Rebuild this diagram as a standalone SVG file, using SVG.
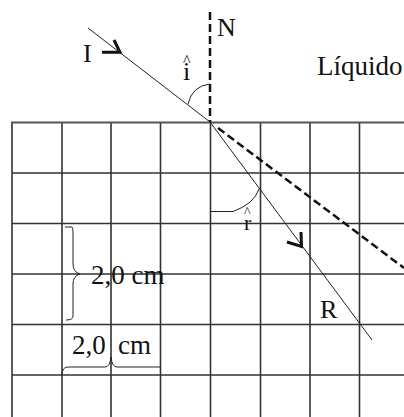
<svg xmlns="http://www.w3.org/2000/svg" width="404" height="417" viewBox="0 0 404 417">
<style>
.grid{stroke:#333;stroke-width:1.6;fill:none}
.ray{stroke:#222;stroke-width:1;fill:none}
.dash{stroke:#111;stroke-width:2.5;fill:none;stroke-dasharray:8 4}
.arr{stroke:#111;stroke-width:3;fill:none;stroke-linejoin:miter}
.thin{stroke:#222;stroke-width:1;fill:none}
.t{font-family:'Liberation Serif','Times New Roman','DejaVu Serif',serif;font-size:26px;fill:#111}
</style>
<rect width="404" height="417" fill="#fff"/>
<g id="grid">
<path class="grid" d="M12,122.5V417M62,122.5V417M111,122.5V417M160.5,122.5V417M210.5,122.5V417M260.5,122.5V417M310,122.5V417M359.5,122.5V417"/>
<path class="grid" d="M12,173H404M12,223.5H404M12,274H404M12,324.5H404M12,375H404"/>
<path d="M11,122.5H404" stroke="#555" stroke-width="2.2"/>
</g>
<g id="connectors">
<path class="dash" d="M210,12V122"/>
<path class="ray" d="M88,28L210,122"/>
<path class="ray" d="M210,122L372,340"/>
<path class="dash" d="M218,128L404,268"/>
<path class="arr" d="M102,52.3H120L114,40"/>
<path class="arr" d="M287,242L301.5,246.5L301,232"/>
<path class="thin" d="M210,84Q192,86 188,104"/>
<path class="thin" d="M210,211.5H233Q254,204 259,189"/>
<path class="thin" d="M65,227H72Q73,228 73,232V264Q73,272 80,274Q73,276 73,284V316Q73,320 66,320"/>
<path class="thin" d="M62,375Q62,367 68,367H105Q110,367 111,357Q112,367 117,367H160.5V370"/>
</g>
<g id="labels">
<text class="t" x="83" y="62">I</text>
<text class="t" x="217" y="36">N</text>
<text class="t" x="183" y="80">i</text>
<text class="t" x="183" y="66" style="font-size:16px">^</text>
<text class="t" x="244" y="230" style="font-size:22px">r</text>
<text class="t" x="244" y="217" style="font-size:14px">^</text>
<text class="t" x="317" y="75" style="font-size:27px">Líquido</text>
<text class="t" x="320" y="318">R</text>
<text class="t" x="91" y="284" style="font-size:27px">2,0 cm</text>
<text class="t" x="72" y="354" style="font-size:27px">2,0</text>
<text class="t" x="118" y="354" style="font-size:27px">cm</text>
</g>
</svg>
